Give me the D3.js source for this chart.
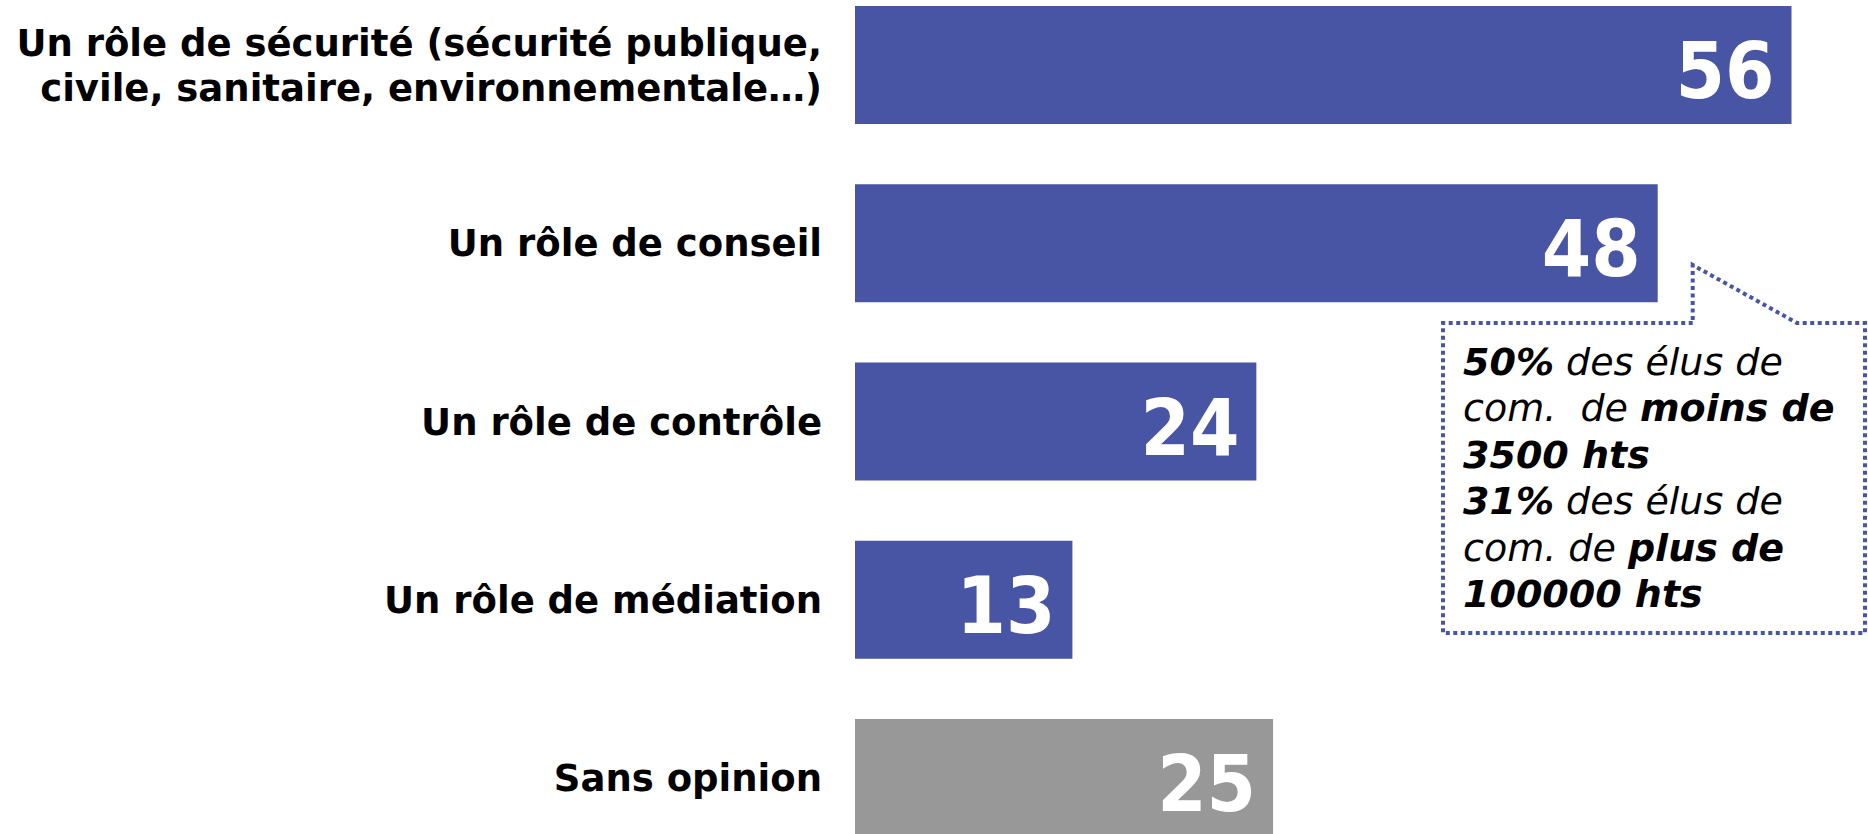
<!DOCTYPE html>
<meta charset="utf-8">
<style>
body { margin: 0; background: #fff; }
svg { display: block; font-family: "DejaVu Sans", Verdana, sans-serif; }
.label { font-weight: bold; font-size: 37px; fill: #000; }
.value { font-family: "DejaVu Sans Condensed", "DejaVu Sans", sans-serif; font-stretch: condensed;
         font-weight: bold; font-size: 79px; fill: #fff; }
.note { font-style: italic; font-size: 38px; fill: #000; white-space: pre; }
.note .b { font-weight: bold; }
</style>
<script src="https://d3js.org/d3.v7.min.js"></script>
<svg width="1868" height="834"></svg>
<script>
// data
var categories = [
  "Un rôle de sécurité (sécurité publique,\ncivile, sanitaire, environnementale…)",
  "Un rôle de conseil",
  "Un rôle de contrôle",
  "Un rôle de médiation",
  "Sans opinion"
];
var values = [56, 48, 24, 13, 25];

// callout text, [text, bold?] per segment
var noteLines = [
  [["50%", true], [" des élus de", false]],
  [["com.  de ", false], ["moins de", true]],
  [["3500 hts", true]],
  [["31%", true], [" des élus de", false]],
  [["com. de ", false], ["plus de", true]],
  [["100000 hts", true]]
];

var svg = d3.select("svg"),
    width = +svg.attr("width"),
    height = +svg.attr("height");

var blue = "#4855a5", grey = "#989898";

var x = d3.scaleLinear()
    .domain([0, 56])
    .range([855, 1791.5]);

var y = d3.scaleBand()
    .domain(categories)
    .range([6, 837])
    .paddingInner(0.338)
    .paddingOuter(0);

var data = categories.map(function(c, i) { return {cat: c, value: values[i]}; });

var row = svg.selectAll("g.row")
    .data(data)
  .enter().append("g")
    .attr("class", "row");

row.append("rect")
    .attr("x", x(0))
    .attr("y", function(d) { return y(d.cat); })
    .attr("width", function(d) { return x(d.value) - x(0); })
    .attr("height", y.bandwidth())
    .attr("fill", function(d) { return d.cat == "Sans opinion" ? grey : blue; });

row.append("text")
    .attr("class", "value")
    .attr("text-anchor", "end")
    .attr("x", function(d) { return x(d.value) - 17; })
    .attr("y", function(d) { return y(d.cat) + y.bandwidth() / 2 + 33; })
    .text(function(d) { return d.value; });

var lineH = 45;
row.append("text")
    .attr("class", "label")
    .attr("text-anchor", "end")
  .selectAll("tspan")
    .data(function(d) {
      var lines = d.cat.split("\n");
      var c = y(d.cat) + y.bandwidth() / 2;
      return lines.map(function(l, i) {
        return {t: l, y: c + 13 - (lines.length - 1) * lineH / 2 + i * lineH};
      });
    })
  .enter().append("tspan")
    .attr("x", 822)
    .attr("y", function(d) { return d.y; })
    .text(function(d) { return d.t; });

// callout with pointer towards the "conseil" bar
var box = {x0: 1443, y0: 323, x1: 1865, y1: 633};
var tip = [x(48) + 35, 265];
var p = d3.path();
p.moveTo(tip[0], box.y0);
p.lineTo(box.x0, box.y0);
p.lineTo(box.x0, box.y1);
p.lineTo(box.x1, box.y1);
p.lineTo(box.x1, box.y0);
p.lineTo(1797, box.y0);
p.lineTo(tip[0], tip[1]);
p.closePath();

svg.append("path")
    .attr("d", p.toString())
    .attr("fill", "#fff")
    .attr("stroke", blue)
    .attr("stroke-width", 4)
    .attr("stroke-dasharray", "4,3.5");

var note = svg.append("text")
    .attr("class", "note");

note.selectAll("tspan.line")
    .data(noteLines)
  .enter().append("tspan")
    .attr("class", "line")
    .attr("x", 1463)
    .attr("y", function(d, i) { return 375 + i * 46.4; })
  .selectAll("tspan")
    .data(function(d) { return d; })
  .enter().append("tspan")
    .attr("class", function(d) { return d[1] ? "b" : null; })
    .text(function(d) { return d[0]; });
</script>
